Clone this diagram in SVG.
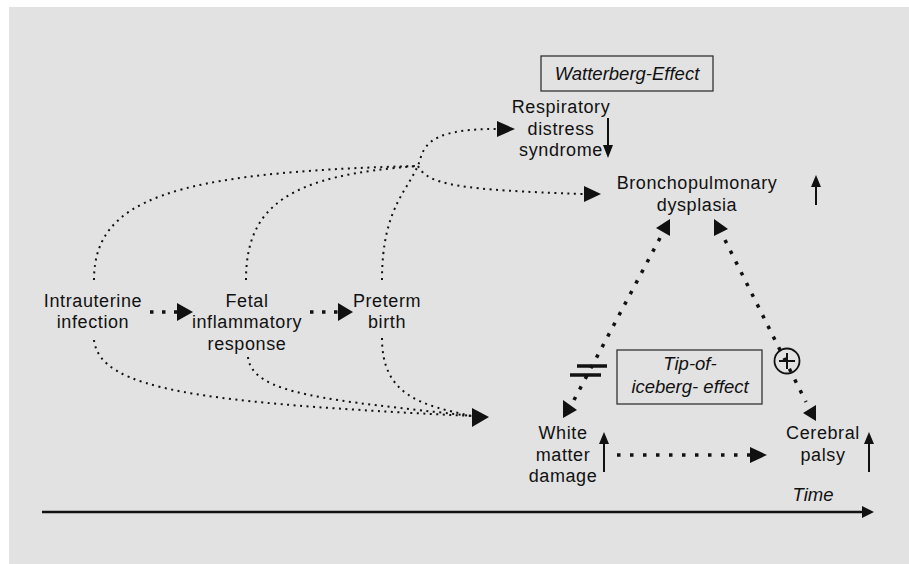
<svg xmlns="http://www.w3.org/2000/svg" width="909" height="564" viewBox="0 0 909 564">
<style>
text{font-family:"Liberation Sans",Arial,sans-serif;font-size:18px;fill:#111;letter-spacing:0.6px;text-anchor:middle}
.it{font-style:italic;font-size:18.5px;letter-spacing:0px}
.thin{fill:none;stroke:#111;stroke-width:2;stroke-dasharray:2 4.5}
.thick{fill:none;stroke:#111;stroke-width:3.5;stroke-dasharray:3.5 8.5}
.solid{fill:none;stroke:#111;stroke-width:2}
.head{fill:#111}
.box{fill:none;stroke:#333;stroke-width:1.3}
</style>
<rect x="9" y="7" width="900" height="557" fill="#e2e2e2"/>

<g id="connectors">
  <path class="thin" d="M94,280 C94,200 170,172 418,166"/>
  <path class="thin" d="M246,280 C246,205 290,175 418,166"/>
  <path class="thin" d="M382,280 C382,205 410,190 420,160 C425,140 440,129 497,129"/>
  <path class="thin" d="M418,166 C428,185 460,190 584,194"/>
  <polygon class="head" points="497,121 515,129 497,137"/>
  <polygon class="head" points="584,186 601,194 584,202"/>
  <path class="thin" d="M94,340 C100,390 200,403 472,416"/>
  <path class="thin" d="M248,357 C252,395 330,400 472,416"/>
  <path class="thin" d="M382,338 C382,395 420,405 472,416"/>
  <polygon class="head" points="472,408 489,417 472,427"/>
  <path class="thick" d="M150,312 L177,312"/>
  <polygon class="head" points="177,303 193,312 177,321"/>
  <path class="thick" d="M310,312 L338,312"/>
  <polygon class="head" points="338,303 353,312 338,321"/>
  <path class="thick" d="M660,238 L574,400"/>
  <polygon class="head" points="656,228 670,219 670,236"/>
  <polygon class="head" points="563,400 577,410 563,418"/>
  <path class="thick" d="M725,240 L806,402"/>
  <polygon class="head" points="714,219 728,229 714,236"/>
  <polygon class="head" points="803,413 816,405 816,421"/>
  <path class="thick" d="M617,455 L750,455" style="stroke-dasharray:3.5 9.5"/>
  <polygon class="head" points="750,447 767,455 750,463"/>
  <line x1="577" y1="366" x2="607" y2="366" stroke="#111" stroke-width="3.5"/>
  <line x1="570" y1="375" x2="601" y2="375" stroke="#111" stroke-width="3.5"/>
  <circle cx="787" cy="361" r="12.5" fill="none" stroke="#111" stroke-width="1.8"/>
  <line x1="779" y1="361" x2="795" y2="361" stroke="#111" stroke-width="2"/>
  <line x1="787" y1="353" x2="787" y2="369" stroke="#111" stroke-width="2"/>
  <line class="solid" x1="608" y1="118" x2="608" y2="146"/>
  <polygon class="head" points="603,145 613,145 608,158"/>
  <line class="solid" x1="816" y1="186" x2="816" y2="205"/>
  <polygon class="head" points="811,187 821,187 816,175"/>
  <line class="solid" x1="604" y1="443" x2="604" y2="472"/>
  <polygon class="head" points="599,444 609,444 604,432"/>
  <line class="solid" x1="869" y1="443" x2="869" y2="472"/>
  <polygon class="head" points="864,444 874,444 869,432"/>
  <line x1="42" y1="512" x2="863" y2="512" stroke="#111" stroke-width="2.5"/>
  <polygon class="head" points="862,506 874,512 862,518"/>
</g>

<g id="watterberg">
  <rect class="box" x="541" y="56" width="172" height="35"/>
  <text class="it" x="627" y="80">Watterberg-Effect</text>
</g>
<g id="rds">
  <text x="561" y="113">Respiratory</text>
  <text x="561" y="135">distress</text>
  <text x="561" y="156">syndrome</text>
</g>
<g id="bpd">
  <text x="697" y="189">Bronchopulmonary</text>
  <text x="697" y="211">dysplasia</text>
</g>
<g id="intrauterine">
  <text x="93" y="307">Intrauterine</text>
  <text x="93" y="328">infection</text>
</g>
<g id="fetal">
  <text x="247" y="307">Fetal</text>
  <text x="247" y="328">inflammatory</text>
  <text x="247" y="350">response</text>
</g>
<g id="preterm">
  <text x="387" y="307">Preterm</text>
  <text x="387" y="328">birth</text>
</g>
<g id="tip">
  <rect class="box" x="617" y="350" width="145" height="54"/>
  <text class="it" x="690" y="370">Tip-of-</text>
  <text class="it" x="690" y="393">iceberg- effect</text>
</g>
<g id="wmd">
  <text x="563" y="439">White</text>
  <text x="563" y="461">matter</text>
  <text x="563" y="482">damage</text>
</g>
<g id="cp">
  <text x="823" y="439">Cerebral</text>
  <text x="823" y="461">palsy</text>
</g>
<g id="time">
  <text class="it" x="813" y="501">Time</text>
</g>
</svg>
